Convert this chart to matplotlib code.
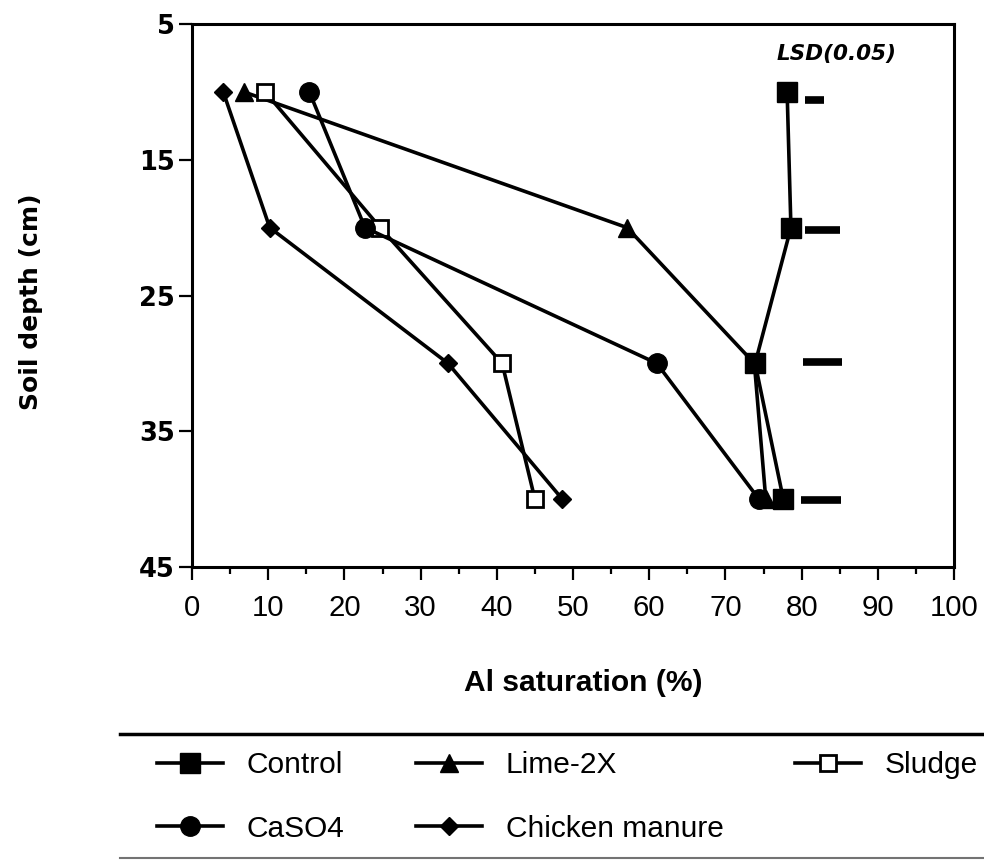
import matplotlib
matplotlib.use('Agg')
import matplotlib.pyplot as plt
from matplotlib import font_manager
from matplotlib.lines import Line2D
from matplotlib.ticker import MultipleLocator

# soil depth (cm) and Al saturation (%) per treatment
depth = [10, 20, 30, 40]
control = [78.1, 78.6, 73.9, 77.6]
caso4 = [15.4, 22.7, 61.0, 74.4]
lime_2x = [6.8, 57.1, 73.8, 75.3]
chicken_manure = [4.1, 10.2, 33.6, 48.6]
sludge = [9.6, 24.7, 40.7, 45.0]

# LSD(0.05) bars
lsd_depth = [10.6, 20.2, 29.9, 40.1]
lsd_start = [80.4, 80.4, 80.2, 79.9]
lsd_end = [83.0, 85.0, 85.3, 85.2]

y_ticks = [5, 15, 25, 35, 45]

installed = {f.name for f in font_manager.fontManager.ttflist}
narrow = 'Liberation Sans Narrow' if 'Liberation Sans Narrow' in installed else 'Liberation Sans'
nscale = 1.0 if narrow == 'Liberation Sans Narrow' else 0.88

fig = plt.figure(figsize=(9.84, 8.6), dpi=100)
ax = fig.add_axes([192/984, 1-567/860, (954-192)/984, (567-24)/860])

lw = 2.6
ln_lime, = ax.plot(lime_2x, depth, '-^', color='black', lw=lw, ms=12.5, label='Lime-2X')
ln_sludge, = ax.plot(sludge, depth, '-s', color='black', lw=lw, ms=12, mfc='white', mew=2, label='Sludge')
ln_chick, = ax.plot(chicken_manure, depth, '-D', color='black', lw=lw, ms=9.5, label='Chicken manure')
ln_caso4, = ax.plot(caso4, depth, '-o', color='black', lw=lw, ms=14, label='CaSO4')
ln_control, = ax.plot(control, depth, '-s', color='black', lw=lw, ms=14.5, label='Control')

ax.hlines(lsd_depth, lsd_start, lsd_end, color='black', lw=5.5, capstyle='butt')
ax.text(0.767, 0.945, 'LSD(0.05)', transform=ax.transAxes, ha='left', va='center',
        fontsize=15.5, fontweight='bold', fontstyle='italic', family='DejaVu Sans')

ax.set_xlim(0, 100)
ax.set_ylim(45, 5)
ax.set_yticks(y_ticks)
ax.xaxis.set_major_locator(MultipleLocator(10))
ax.xaxis.set_minor_locator(MultipleLocator(5))

for s in ax.spines.values():
    s.set_linewidth(2.2)
ax.tick_params(axis='both', which='major', direction='out', length=9.5, width=1.6)
ax.tick_params(axis='x', which='minor', direction='out', length=5, width=1.6)
ax.tick_params(axis='x', pad=10)
ax.tick_params(axis='y', pad=3)
for lab in ax.get_xticklabels():
    lab.set_fontfamily(narrow)
    lab.set_fontsize(24 * nscale)
for lab in ax.get_yticklabels():
    lab.set_fontfamily('DejaVu Sans')
    lab.set_fontweight('bold')
    lab.set_fontsize(18.5)

fig.text(583/984, 1-683/860, 'Al saturation (%)', ha='center', va='center',
         fontsize=26 * 0.83 if nscale < 1 else 26, fontweight='bold', family=narrow)
fig.text(31/984, 1-302/860, 'Soil depth (cm)', ha='center', va='center', rotation=90,
         fontsize=18, fontweight='bold', family='DejaVu Sans')

handles = [ln_control, ln_caso4, ln_lime, ln_chick, ln_sludge]
fig.legend(handles, [h.get_label() for h in handles], ncol=3, frameon=False,
           prop={'family': 'Liberation Sans', 'size': 21.5},
           handlelength=2.2, handletextpad=0.8, columnspacing=2.4, labelspacing=1.2,
           loc='center left', bbox_to_anchor=(157/984, 1-797/860),
           borderpad=0, borderaxespad=0, numpoints=1)

fig.add_artist(Line2D([120/984, 1], [1-734/860, 1-734/860], color='black', lw=2.5,
                      transform=fig.transFigure))
fig.add_artist(Line2D([120/984, 1], [1-858/860, 1-858/860], color='0.45', lw=1.5,
                      transform=fig.transFigure))

fig.savefig('out.png', dpi=100)
